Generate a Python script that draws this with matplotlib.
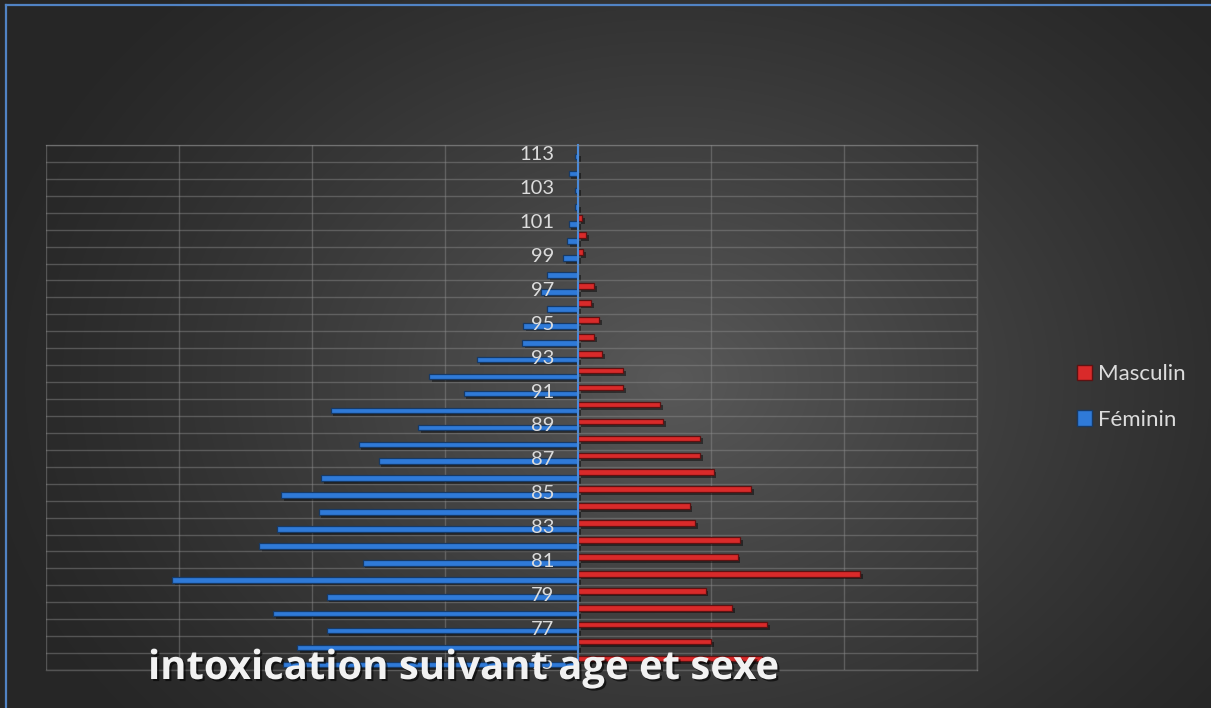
import numpy as np
import matplotlib
matplotlib.use("Agg")
import matplotlib.pyplot as plt
import matplotlib.patheffects as pe
from matplotlib.patches import Patch
from matplotlib.lines import Line2D

# ---------------- data (bottom -> top) ----------------
ages = ["75", "76", "77", "78", "79", "80", "81", "82", "83", "84", "85", "86",
        "87", "88", "89", "90", "91", "92", "93", "94", "95", "96", "97", "98",
        "99", "100", "101", "102", "103", "104", "113"]
masculin = [13.8, 10.0, 14.2, 11.6, 9.6, 21.2, 12.0, 12.2, 8.8, 8.4, 13.0, 10.2,
            9.2, 9.2, 6.4, 6.2, 3.4, 3.4, 1.8, 1.2, 1.6, 1.0, 1.2, 0.0,
            0.4, 0.6, 0.3, 0.0, 0.0, 0.0, 0.0]
feminin = [22.2, 21.1, 18.9, 22.9, 18.9, 30.5, 16.2, 24.0, 22.6, 19.5, 22.3, 19.3,
           15.0, 16.5, 12.0, 18.6, 8.6, 11.2, 7.6, 4.2, 4.1, 2.3, 2.8, 2.3,
           1.1, 0.8, 0.7, 0.2, 0.2, 0.7, 0.2]
series_names = ["Masculin", "Féminin"]
title = "intoxication suivant age et sexe"

W, H = 1211, 708
DPI = 100
fig = plt.figure(figsize=(W / DPI, H / DPI), dpi=DPI)

# ---------------- background gradient ----------------
bg = fig.add_axes([0, 0, 1, 1])
yy, xx = np.mgrid[0:H, 0:W]
r = np.sqrt(((xx - 670) / 720.0) ** 2 + ((yy - 380) / 560.0) ** 2)
t = np.clip(r, 0, 1)
v = (0x26 + (0x59 - 0x26) * (1 - t) ** 1.25) / 255.0
img = np.dstack([v, v, v])
bg.imshow(img, aspect="auto", interpolation="bilinear")
bg.set_axis_off()
bg.set_zorder(-5)

# blue chart border (left + top visible)
border_c = "#5183c4"
fig.add_artist(Line2D([6 / W, 6 / W], [0, 1 - 5 / H], color=border_c, lw=1.6,
                      transform=fig.transFigure))
fig.add_artist(Line2D([6 / W, 1], [1 - 5 / H, 1 - 5 / H], color=border_c, lw=1.6,
                      transform=fig.transFigure))

# ---------------- main axes ----------------
left, right, top, bottom = 46, 977, 145, 670
ax = fig.add_axes([left / W, 1 - bottom / H, (right - left) / W, (bottom - top) / H])
ax.set_facecolor("none")
ax.set_zorder(1)

n = len(ages)
y = np.arange(n)
off = 0.175
h = 0.33

blue_c, blue_e = "#2f7ad8", "#173a66"
red_c, red_e = "#d92a2a", "#5e1212"
shadow = [pe.SimplePatchShadow(offset=(2, -2), shadow_rgbFace="black", alpha=0.45), pe.Normal()]

mb = ax.barh(y + off, masculin, height=h, color=red_c, edgecolor=red_e, linewidth=0.9,
             label=series_names[0], zorder=3)
fb = ax.barh(y - off, [-f for f in feminin], height=h, color=blue_c, edgecolor=blue_e,
             linewidth=0.9, label=series_names[1], zorder=3)
for b in list(mb) + list(fb):
    b.set_path_effects(shadow)

ax.set_xlim(-40, 30)
ax.set_ylim(-0.5, n - 0.5)
ax.set_xticks(np.arange(-40, 31, 10))
ax.set_yticks(y[::2])
ax.set_yticklabels(ages[::2])
ax.set_yticks(np.arange(-0.5, n, 1.0), minor=True)

grid_c = "#8c8c8c"
ax.grid(which="major", axis="x", color=grid_c, alpha=0.45, lw=1.0)
ax.grid(which="minor", axis="y", color=grid_c, alpha=0.45, lw=1.0)
ax.set_axisbelow(True)
ax.yaxis.set_zorder(5)   # category labels above the bars

for s in ["top", "bottom", "right"]:
    ax.spines[s].set_color(grid_c)
    ax.spines[s].set_alpha(0.45)
    ax.spines[s].set_linewidth(1.0)
ax.spines["left"].set_position(("data", 0))
ax.spines["left"].set_color("#4a8ad8")
ax.spines["left"].set_linewidth(1.5)
ax.spines["left"].set_zorder(4)

ax.tick_params(axis="x", length=0, labelbottom=False)
ax.tick_params(axis="y", which="both", length=0, pad=17, labelsize=14.5,
               labelcolor="#dcdcdc")
for lab in ax.get_yticklabels():
    lab.set_fontfamily(["Lato", "DejaVu Sans"])

# legend
leg = fig.legend(handles=[Patch(facecolor=red_c, edgecolor=red_e),
                          Patch(facecolor=blue_c, edgecolor=blue_e)],
                 labels=series_names, loc="center left",
                 bbox_to_anchor=(1077 / W, 1 - 397 / H), frameon=False,
                 borderpad=0, borderaxespad=0,
                 handlelength=0.68, handleheight=0.68, handletextpad=0.25,
                 labelspacing=1.15, prop={"family": ["Lato", "DejaVu Sans"], "size": 16},
                 labelcolor="#dcdcdc")

# title
fig.text(148 / W, 1 - 679 / H, title, ha="left", va="baseline", color="#f2f2f2",
         fontsize=28.8, fontweight="bold", family=["Open Sans", "DejaVu Sans"], zorder=10,
         path_effects=[pe.SimplePatchShadow(offset=(1.5, -1.5), shadow_rgbFace="black",
                                            alpha=0.6), pe.Normal()])

fig.savefig("out.png", dpi=DPI)
